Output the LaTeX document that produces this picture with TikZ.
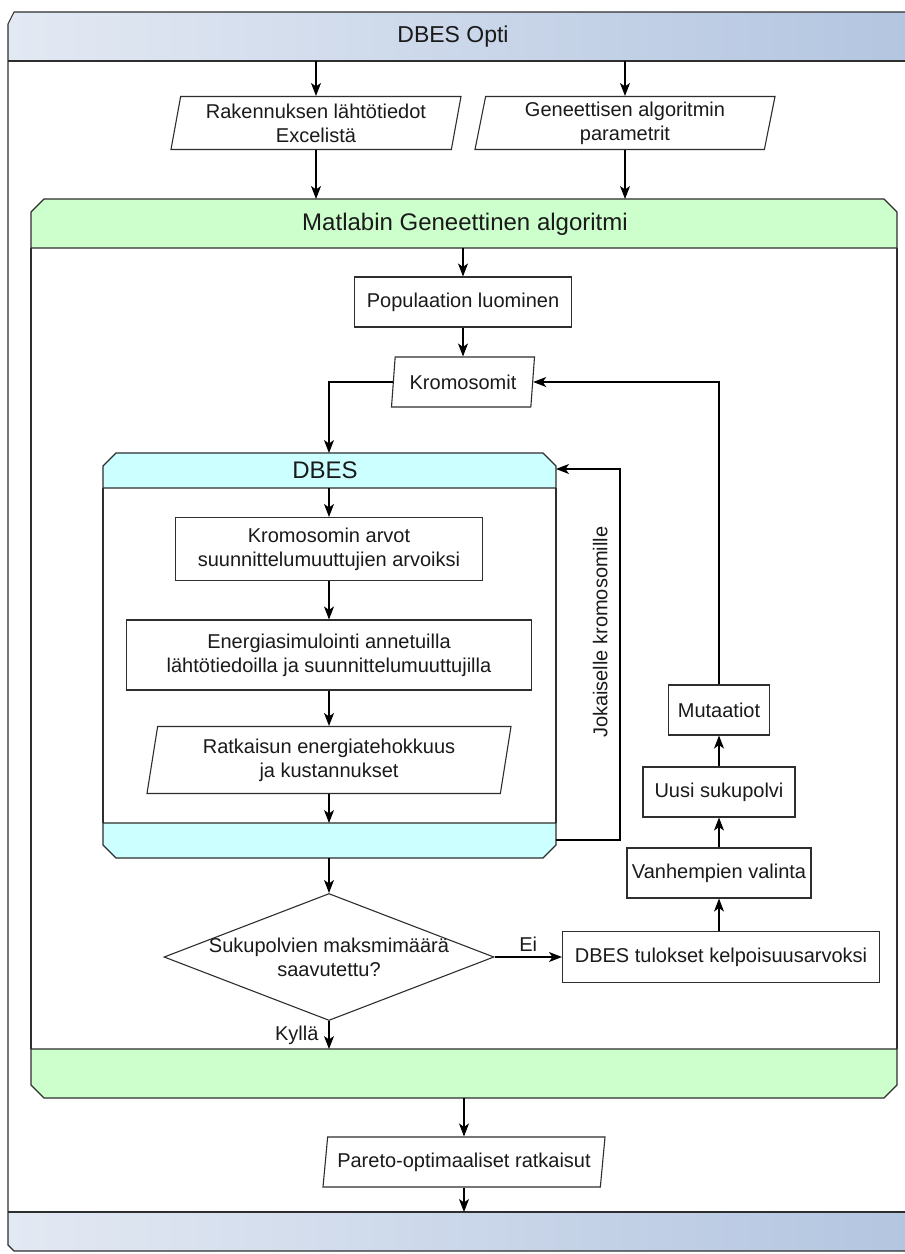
\documentclass[tikz,border=0pt]{standalone}
\usepackage{fontspec}
\setmainfont{Liberation Sans}
\usetikzlibrary{arrows.meta}
\usetikzlibrary{shapes.geometric}

\definecolor{hdrleft}{HTML}{E3E9F3}
\definecolor{hdrright}{HTML}{B3C5E0}
\definecolor{gagreen}{HTML}{CCFFCC}
\definecolor{dbcyan}{HTML}{CCFFFF}
\definecolor{edge}{HTML}{2E2E2E}
\definecolor{ink}{HTML}{1A1A1A}

\newcommand\bodyfont{\fontsize{20}{24}\selectfont}
\newcommand\titlefont{\fontsize{24}{28}\selectfont}

\tikzset{
  box/.style={draw=edge, line width=1.1pt, fill=white, text=ink, align=center,
    font=\bodyfont, minimum height=50pt, inner sep=0pt},
  io/.style={box, trapezium, trapezium left angle=76, trapezium right angle=104,
    trapezium stretches body},
  decision/.style={box, diamond, minimum width=330pt, minimum height=127pt},
  flow/.style={-{Stealth[length=13pt,width=10pt,inset=3.5pt]}, line width=1.1pt},
  lbl/.style={text=ink, font=\bodyfont, inner sep=5pt}
}

\begin{document}
\begin{tikzpicture}[x=1pt,y=-1pt]
  \useasboundingbox (0,0) rectangle (905,1254);
  \clip (0,0) rectangle (905,1254);

  \fill[white] (0,0) rectangle (905,1254);
  \shade[left color=hdrleft, right color=hdrright] (8,24) -- (14,12) -- (910,12) -- (910,61) -- (8,61) -- cycle;
  \shade[left color=hdrleft, right color=hdrright] (8,1212) -- (910,1212) -- (910,1251) -- (14,1251) -- (8,1245) -- cycle;
  \draw[edge, line width=1.1pt] (910,12) -- (14,12) -- (8,24) -- (8,1245) -- (14,1251) -- (910,1251);
  \draw[edge, line width=1.1pt] (8,61) -- (910,61);
  \draw[edge, line width=1.1pt] (8,1212) -- (910,1212);

  \foreach \l/\r/\t/\m/\f/\b/\c in {31/897/199/248/1049/1098/gagreen, 103/556/453/488/823/858/dbcyan} {
    \draw[edge, line width=1.1pt, fill=\c] (\l,\m) -- (\l,\t+13) -- (\l+13,\t) -- (\r-13,\t) -- (\r,\t+13) -- (\r,\m) -- cycle;
    \draw[edge, line width=1.1pt] (\l,\m) -- (\l,\f);
    \draw[edge, line width=1.1pt] (\r,\m) -- (\r,\f);
    \draw[edge, line width=1.1pt, fill=\c] (\l,\f) -- (\l,\b-13) -- (\l+13,\b) -- (\r-13,\b) -- (\r,\b-13) -- (\r,\f) -- cycle;
  }

  \coordinate (hdrbot) at (0,61);
  \coordinate (gatop) at (0,199);
  \coordinate (gabot) at (0,248);
  \coordinate (dbtop) at (0,453);
  \coordinate (dbbot) at (0,488);
  \coordinate (dbfoot) at (0,823);
  \coordinate (dbend) at (0,858);
  \coordinate (gafoot) at (0,1049);
  \coordinate (gaend) at (0,1098);
  \coordinate (botbar) at (0,1212);
  \coordinate (loopout) at (556,840);
  \coordinate (loopin) at (556,469);

  \node (opti) at (453,37) [text=ink, font=\fontsize{23}{27}\selectfont] {DBES Opti};
  \node (ga) at (465,224) [text=ink, font=\titlefont] {Matlabin Geneettinen algoritmi};
  \node (db) at (325,470) [text=ink, font=\titlefont] {DBES};

  \node (lahto) at (316,123) [io, minimum width=290pt, minimum height=53pt] {Rakennuksen lähtötiedot\\Excelistä};
  \node (param) at (625,123) [io, minimum width=300pt, minimum height=53pt] {Geneettisen algoritmin\\parametrit};
  \node (pop) at (463,302) [box, minimum width=217pt] {Populaation luominen};
  \node (krom) at (463,382) [io, minimum width=143pt] {Kromosomit};
  \node (arvot) at (329,549) [box, minimum width=307pt, minimum height=63pt] {Kromosomin arvot\\suunnittelumuuttujien arvoiksi};
  \node (sim) at (329,655) [box, minimum width=405pt, minimum height=70pt] {Energiasimulointi annetuilla\\lähtötiedoilla ja suunnittelumuuttujilla};
  \node (ratk) at (329,760) [io, minimum width=364pt, minimum height=67pt] {Ratkaisun energiatehokkuus\\ja kustannukset};
  \node (maks) at (329,957) [decision] {};
  \node (makstxt) at (maks.center) [lbl, align=center] {Sukupolvien maksmimäärä\\saavutettu?};
  \node (kelp) at (721,957) [box, minimum width=317pt, minimum height=51pt] {DBES tulokset kelpoisuusarvoksi};
  \node (vanh) at (719,873) [box, minimum width=184pt] {Vanhempien valinta};
  \node (uusi) at (719,792) [box, minimum width=152pt] {Uusi sukupolvi};
  \node (muta) at (719,710) [box, minimum width=101pt] {Mutaatiot};
  \node (pareto) at (464,1162) [io, minimum width=282pt] {Pareto-optimaaliset ratkaisut};

  \draw[flow] (lahto |- hdrbot) -- (lahto);
  \draw[flow] (param |- hdrbot) -- (param);
  \draw[flow] (lahto.south) -- (lahto.south |- gatop);
  \draw[flow] (param.south) -- (param.south |- gatop);
  \draw[flow] (pop |- gabot) -- (pop);
  \draw[flow] (pop) -- (krom);
  \draw[flow] (krom.west) -| (arvot |- dbtop);
  \draw[flow] (arvot |- dbbot) -- (arvot);
  \draw[flow] (arvot) -- (sim);
  \draw[flow] (sim) -- (ratk);
  \draw[flow] (ratk.south) -- (ratk.south |- dbfoot);
  \draw[flow] (loopout) -- ++(64,0) |- node[lbl, pos=0.28, rotate=90, anchor=south, inner sep=12pt] {Jokaiselle kromosomille} (loopin);
  \draw[flow] (arvot |- dbend) -- (maks.north);
  \draw[flow] (maks.east) -- node[lbl, above] {Ei} (kelp);
  \draw[flow] (vanh |- kelp.north) -- (vanh);
  \draw[flow] (vanh) -- (uusi);
  \draw[flow] (uusi) -- (muta);
  \draw[flow] (muta) |- (krom.east);
  \draw[flow] (maks.south) -- node[lbl, left, inner sep=10pt] {Kyllä} (maks.south |- gafoot);
  \draw[flow] (pareto |- gaend) -- (pareto);
  \draw[flow] (pareto) -- (pareto |- botbar);
\end{tikzpicture}
\end{document}
